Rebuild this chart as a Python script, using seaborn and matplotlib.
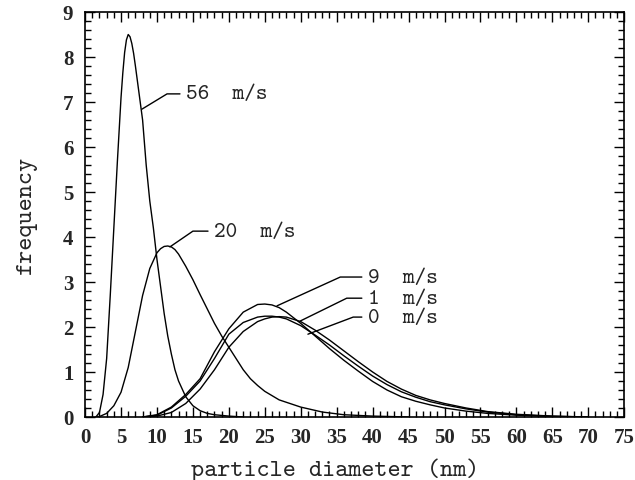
import numpy as np
import pandas as pd
import seaborn as sns
import matplotlib
matplotlib.use('Agg')
import matplotlib.pyplot as plt
from matplotlib.ticker import MultipleLocator

# curves: particle diameter (nm) vs frequency
x_56 = [1.5, 2.0, 2.5, 3.0, 3.5, 4.0, 4.5, 5.0, 5.25, 5.5, 5.75, 6.0, 6.25, 6.5, 6.75, 7.0, 7.5,
        8.0, 8.5, 9.0, 9.5, 10.0, 10.5, 11.0, 11.5, 12.0, 12.5, 13.0, 14.0, 15.0, 16.0, 17.0,
        18.0, 20.0, 22.0]
y_56 = [0.0, 0.1, 0.5, 1.3, 2.7, 4.2, 5.7, 7.1, 7.65, 8.1, 8.38, 8.5, 8.45, 8.3, 8.08, 7.8, 7.2,
        6.6, 5.6, 4.8, 4.2, 3.5, 2.9, 2.3, 1.8, 1.4, 1.05, 0.8, 0.45, 0.25, 0.14, 0.08,
        0.05, 0.02, 0.0]

x_20 = [1.5, 2, 3, 4, 5, 6, 7, 8, 9, 10, 10.5, 11, 11.5, 12, 12.5, 13, 14, 15, 16, 17, 18, 19,
        20, 21, 22, 23, 24, 25, 27, 30, 33, 36, 40, 45]
y_20 = [0.0, 0.01, 0.08, 0.25, 0.55, 1.1, 1.9, 2.7, 3.3, 3.65, 3.74, 3.79, 3.8, 3.78, 3.72,
        3.62, 3.35, 3.05, 2.72, 2.4, 2.08, 1.8, 1.55, 1.3, 1.05, 0.85, 0.7, 0.57, 0.38, 0.22,
        0.11, 0.05, 0.02, 0.0]

x_low = [8, 10, 12, 14, 16, 18, 20, 22, 24, 25, 26, 27, 28, 30, 32, 34, 36, 38, 40, 42, 44, 46,
         48, 50, 53, 56, 60, 65, 70]
y_9 = [0.0, 0.05, 0.22, 0.5, 0.85, 1.45, 1.96, 2.33, 2.5, 2.51, 2.49, 2.43, 2.33, 2.08, 1.8,
       1.52, 1.26, 1.02, 0.79, 0.6, 0.45, 0.35, 0.27, 0.2, 0.13, 0.08, 0.04, 0.01, 0.0]
y_1 = [0.0, 0.04, 0.2, 0.46, 0.8, 1.3, 1.84, 2.1, 2.22, 2.24, 2.24, 2.22, 2.18, 2.03, 1.82,
       1.6, 1.36, 1.13, 0.91, 0.72, 0.56, 0.44, 0.34, 0.27, 0.18, 0.11, 0.05, 0.015, 0.0]
y_0 = [0.0, 0.02, 0.1, 0.3, 0.62, 1.05, 1.55, 1.9, 2.12, 2.18, 2.22, 2.23, 2.22, 2.12, 1.93,
       1.71, 1.47, 1.23, 1.0, 0.79, 0.62, 0.48, 0.38, 0.3, 0.2, 0.12, 0.06, 0.02, 0.0]

labels = ['56  m/s', '20  m/s', '9  m/s', '1  m/s', '0  m/s']
# leader lines: point on curve -> elbow -> end of horizontal
leader_x = [[7.9, 11.4, 13.2], [11.8, 15.0, 17.1], [26.7, 35.5, 38.5], [29.9, 36.4, 38.5], [31.0, 37.3, 38.5]]
leader_y = [[6.84, 7.18, 7.18], [3.78, 4.13, 4.13], [2.47, 3.11, 3.11], [2.13, 2.64, 2.64], [1.84, 2.22, 2.22]]

frames = []
for name, xs, ys in [('56', x_56, y_56), ('20', x_20, y_20), ('9', x_low, y_9),
                     ('1', x_low, y_1), ('0', x_low, y_0)]:
    frames.append(pd.DataFrame({'d': xs, 'f': ys, 'speed': name}))
df = pd.concat(frames, ignore_index=True)

sns.set_style('ticks')
plt.rcParams['font.family'] = ['DejaVu Serif']

fig = plt.figure(figsize=(6.35, 4.81), dpi=100)
ax = fig.add_axes([0.134, 0.131, 0.849, 0.842])

sns.lineplot(data=df, x='d', y='f', units='speed', estimator=None, color='black',
             linewidth=1.0, ax=ax, legend=False, sort=False)

for lx, ly, lab in zip(leader_x, leader_y, labels):
    ax.plot(lx, ly, color='black', linewidth=1.0)
    ax.text(lx[-1] + 0.9, ly[-1], lab, fontsize=16, family='cmtt10', va='center', ha='left')

ax.set_xlim(0, 75)
ax.set_ylim(0, 9)
ax.xaxis.set_major_locator(MultipleLocator(5))
ax.xaxis.set_minor_locator(MultipleLocator(1))
ax.yaxis.set_major_locator(MultipleLocator(1))
ax.yaxis.set_minor_locator(MultipleLocator(0.2))
ax.tick_params(which='both', direction='in', top=True, right=True, width=1.0, color='black')
ax.tick_params(which='major', length=7)
ax.tick_params(which='minor', length=4)
ax.tick_params(axis='x', which='major', pad=7)
ax.tick_params(axis='y', which='major', pad=8.5)
for lab in ax.get_xticklabels() + ax.get_yticklabels():
    lab.set_family('Liberation Serif')
    lab.set_fontweight('bold')
    lab.set_fontsize(15)
for sp in ax.spines.values():
    sp.set_linewidth(1.2)
    sp.set_color('black')

ax.set_xlabel('particle diameter (nm)', family='cmtt10', fontsize=18, va='top')
ax.xaxis.set_label_coords(0.464, -0.1)
ax.set_ylabel('frequency', family='cmtt10', fontsize=18, va='center')
ax.yaxis.set_label_coords(-0.109, 0.5)

fig.savefig('out.png', dpi=100)
